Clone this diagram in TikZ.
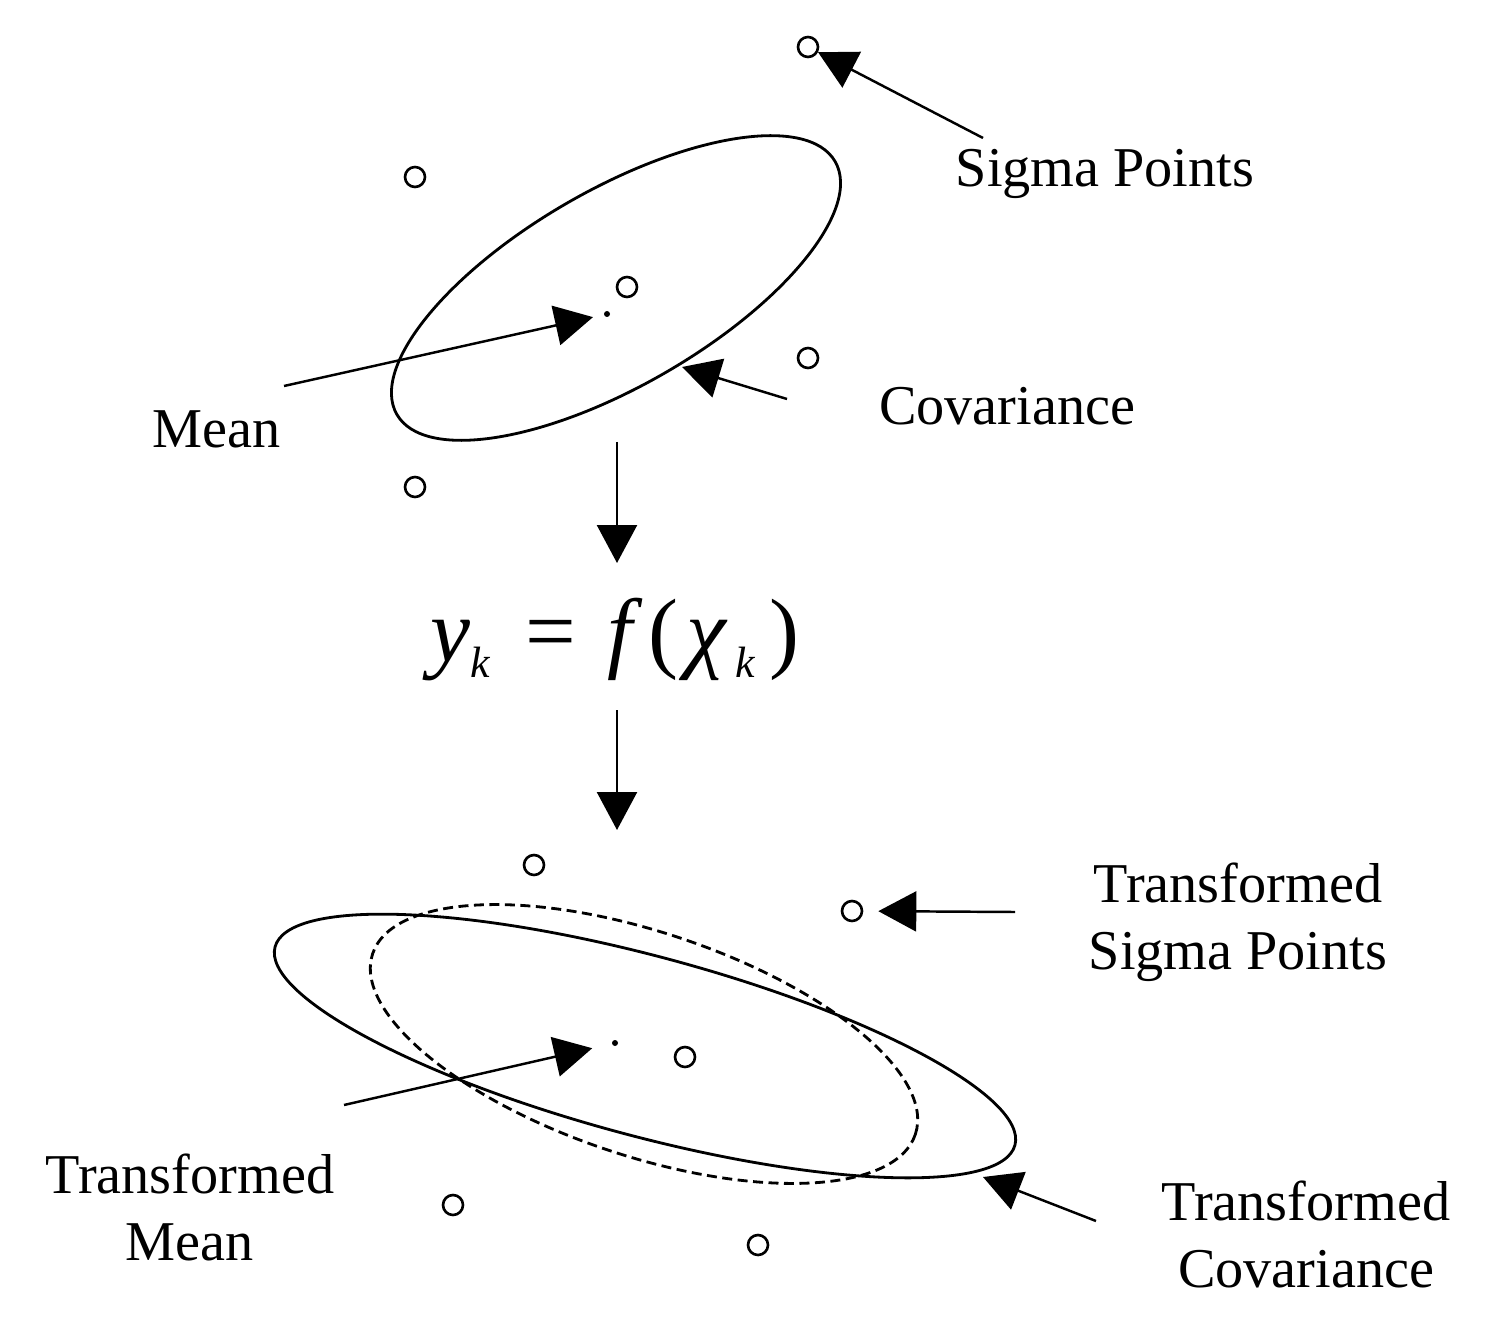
\documentclass[tikz,border=0pt]{standalone}
\usepackage{fontspec}
\setmainfont{Liberation Serif}
\usetikzlibrary{arrows.meta}
\tikzset{
    ut diagram/.style = {x=0.02cm, y=0.02cm,
                         >={Triangle[length=0.76cm, width=0.8cm]}},
    line/.style       = {line width=1.4pt},
    pointer/.style    = {line, ->},
    covar/.style      = {line width=1.6pt},
    tcovar/.style     = {covar, dash pattern=on 0.2cm off 0.11cm},
    sigmapt/.style    = {draw, circle, line width=1.5pt,
                         minimum size=0.4cm, inner sep=0pt},
    meandot/.style    = {circle, fill, inner sep=0pt, minimum size=0.12cm},
    lbl/.style        = {font=\fontsize{32}{38}\selectfont,
                         align=center, inner sep=0pt},
    eqn/.style        = {font=\fontsize{32}{38}\selectfont, inner sep=0pt}
}
% subscript k, sized for the 1.6x scaled formula
\newcommand{\subk}{\raisebox{-0.21cm}{\fontsize{15.6}{16}\selectfont\itshape k}}

\begin{document}
\begin{tikzpicture}[ut diagram]
\useasboundingbox (0,0) rectangle (1488,-1324);

% ================= Prior: sigma points, mean, covariance =================
\draw[covar, rotate around={30:(616,-288)}]
    (616,-288) ellipse [x radius=253, y radius=98];
\foreach \n/\x/\y in {s1/808/-47, s2/415/-177, s3/627/-287,
                      s4/808/-358, s5/415/-487}
    \node[sigmapt] (\n) at (\x,\y) {};
\node[meandot] (m1) at (607,-314) {};

\node[lbl, anchor=base] (sp lbl) at (1105,-187) {Sigma Points};
\node[lbl, anchor=base] (mean lbl) at (217,-448) {Mean};
\node[lbl, anchor=base] (cov lbl) at (1007,-425) {Covariance};

\coordinate (sp tail) at (983,-138);
\coordinate (mean tail) at (284,-386);
\coordinate (cov tail) at (787,-399);
\coordinate (cov tip) at (682,-367);
\draw[pointer] (sp tail) -- (s1);
\draw[pointer, shorten >=0.22cm] (mean tail) -- (m1);
\draw[pointer] (cov tail) -- (cov tip);

% ================= Nonlinear transform =================
\coordinate (flow1 top) at (617,-442);
\coordinate (flow1 tip) at (617,-563);
\draw[pointer] (flow1 top) -- (flow1 tip);

\node[eqn, anchor=base west] (eq) at (430,-661)
    {\scalebox{1.6}{{\itshape y}\subk\hspace{0.45cm}=\hspace{0.39cm}{\itshape f}\hspace{0.2cm}(\hspace{0.1cm}{\itshape χ}\hspace{0.12cm}\subk\hspace{0.18cm})}};

\coordinate (flow2 top) at (617,-710);
\coordinate (flow2 tip) at (617,-830);
\draw[pointer] (flow2 top) -- (flow2 tip);

% ================= Posterior: transformed points =================
\draw[covar, rotate around={-15:(645,-1046)}]
    (645,-1046) ellipse [x radius=383, y radius=90];
\draw[tcovar, rotate around={-18.4:(644,-1044)}]
    (644,-1044) ellipse [x radius=286, y radius=112];
\foreach \n/\x/\y in {s6/534/-865, s7/852/-911, s8/685/-1057,
                      s9/453/-1205, s10/758/-1245}
    \node[sigmapt] (\n) at (\x,\y) {};
\node[meandot] (m2) at (615,-1043) {};

\node[lbl, anchor=base] (tsp lbl) at (1238,-969) {Transformed\\Sigma Points};
\node[lbl, anchor=base] (tmean lbl) at (190,-1260) {Transformed\\Mean};
\node[lbl, anchor=base] (tcov lbl) at (1306,-1287) {Transformed\\Covariance};

\coordinate (tsp tail) at (1015,-912);
\coordinate (tmean tail) at (344,-1105);
\coordinate (tcov tail) at (1096,-1221);
\coordinate (tcov tip) at (983,-1177);
\draw[pointer, shorten >=0.3cm] (tsp tail) -- (s7);
\draw[pointer, shorten >=0.4cm] (tmean tail) -- (m2);
\draw[pointer] (tcov tail) -- (tcov tip);

\end{tikzpicture}
\end{document}
